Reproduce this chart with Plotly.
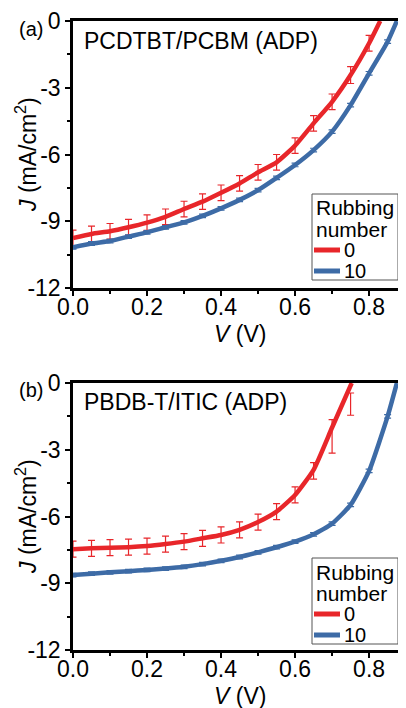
import plotly.graph_objects as go
from plotly.subplots import make_subplots

# ---- data ----
# (a) PCDTBT/PCBM : measured J-V curves
V_a_red = [0.0, 0.05, 0.10, 0.15, 0.20, 0.25, 0.30, 0.35, 0.40, 0.45, 0.50, 0.55, 0.60, 0.65, 0.70, 0.75, 0.80, 0.83]
J_a_red = [-9.75, -9.57, -9.45, -9.27, -9.06, -8.80, -8.45, -8.12, -7.72, -7.30, -6.80, -6.35, -5.60, -4.60, -3.63, -2.43, -1.00, 0.0]
V_a_blue = [0.0, 0.05, 0.10, 0.15, 0.20, 0.25, 0.30, 0.35, 0.40, 0.45, 0.50, 0.55, 0.60, 0.65, 0.70, 0.75, 0.80, 0.85, 0.875]
J_a_blue = [-10.17, -10.00, -9.89, -9.69, -9.50, -9.27, -9.05, -8.76, -8.42, -8.04, -7.60, -7.05, -6.47, -5.80, -4.97, -3.78, -2.35, -0.93, 0.0]
# (a) error bars (mean, half-width)
Vb_a_red = [0.0, 0.05, 0.10, 0.15, 0.20, 0.25, 0.30, 0.35, 0.40, 0.45, 0.50, 0.55, 0.60, 0.65, 0.70, 0.75, 0.80]
Jb_a_red = [-9.75, -9.57, -9.45, -9.27, -9.06, -8.80, -8.45, -8.12, -7.72, -7.30, -6.80, -6.35, -5.60, -4.60, -3.63, -2.43, -1.00]
Eb_a_red = [0.35, 0.35, 0.35, 0.35, 0.35, 0.35, 0.35, 0.35, 0.35, 0.35, 0.35, 0.35, 0.35, 0.35, 0.35, 0.38, 0.35]
Vb_a_blue = [0.0, 0.05, 0.10, 0.15, 0.20, 0.25, 0.30, 0.35, 0.40, 0.45, 0.50, 0.55, 0.60, 0.65, 0.70, 0.75, 0.80, 0.85]
Jb_a_blue = [-10.17, -10.00, -9.89, -9.69, -9.50, -9.27, -9.05, -8.76, -8.42, -8.04, -7.60, -7.05, -6.47, -5.80, -4.97, -3.78, -2.35, -0.93]
Eb_a_blue = [0.08] * 18

# (b) PBDB-T/ITIC : measured J-V curves
V_b_red = [0.0, 0.05, 0.10, 0.15, 0.20, 0.25, 0.30, 0.35, 0.40, 0.45, 0.50, 0.55, 0.60, 0.65, 0.70, 0.753]
J_b_red = [-7.47, -7.43, -7.40, -7.38, -7.33, -7.24, -7.13, -6.98, -6.83, -6.60, -6.25, -5.78, -5.03, -3.90, -2.00, 0.0]
V_b_blue = [0.0, 0.05, 0.10, 0.15, 0.20, 0.25, 0.30, 0.35, 0.40, 0.45, 0.50, 0.55, 0.60, 0.65, 0.70, 0.75, 0.80, 0.85, 0.875]
J_b_blue = [-8.63, -8.57, -8.51, -8.46, -8.40, -8.34, -8.26, -8.14, -7.99, -7.82, -7.61, -7.38, -7.13, -6.80, -6.32, -5.48, -3.95, -1.50, 0.0]
# (b) error bars (mean, half-width)
Vb_b_red = [0.0, 0.05, 0.10, 0.15, 0.20, 0.25, 0.30, 0.35, 0.40, 0.45, 0.50, 0.55, 0.60, 0.65, 0.70, 0.75]
Jb_b_red = [-7.47, -7.43, -7.40, -7.38, -7.33, -7.24, -7.13, -6.98, -6.83, -6.60, -6.25, -5.78, -5.03, -3.95, -2.40, -0.95]
Eb_b_red = [0.36, 0.36, 0.36, 0.36, 0.36, 0.36, 0.36, 0.36, 0.36, 0.36, 0.36, 0.36, 0.36, 0.37, 0.75, 0.50]
Vb_b_blue = [0.0, 0.05, 0.10, 0.15, 0.20, 0.25, 0.30, 0.35, 0.40, 0.45, 0.50, 0.55, 0.60, 0.65, 0.70, 0.75, 0.80, 0.85]
Jb_b_blue = [-8.63, -8.57, -8.51, -8.46, -8.40, -8.34, -8.26, -8.14, -7.99, -7.82, -7.61, -7.38, -7.13, -6.80, -6.32, -5.48, -3.95, -1.50]
Eb_b_blue = [0.08] * 18

legend_title = ["Rubbing", "number"]
legend_labels = ["0", "10"]
panel_titles = ["PCDTBT/PCBM (ADP)", "PBDB-T/ITIC (ADP)"]
panel_tags = ["(a)", "(b)"]
y_ticks = [0, -3, -6, -9, -12]
y_ticktext = ["0", "-3", "-6", "-9", "-12"]
x_ticks = [0.0, 0.2, 0.4, 0.6, 0.8]
x_ticktext = ["0.0", "0.2", "0.4", "0.6", "0.8"]

RED = "#E8262A"
BLUE = "#3D6BA6"
COLORS = [RED, BLUE]
FONT = "Liberation Sans, Arial, sans-serif"

fig = make_subplots(rows=2, cols=1, vertical_spacing=0.1)

panels = [
    (1, [(V_a_red, J_a_red, Vb_a_red, Jb_a_red, Eb_a_red), (V_a_blue, J_a_blue, Vb_a_blue, Jb_a_blue, Eb_a_blue)]),
    (2, [(V_b_red, J_b_red, Vb_b_red, Jb_b_red, Eb_b_red), (V_b_blue, J_b_blue, Vb_b_blue, Jb_b_blue, Eb_b_blue)]),
]
for row, series in panels:
    for (vx, jy, bx, by, be), col, name in zip(series, COLORS, legend_labels):
        fig.add_trace(go.Scatter(
            x=bx, y=by, mode="markers", name=name, showlegend=False, hoverinfo="skip",
            marker=dict(size=1, color="rgba(0,0,0,0)"),
            error_y=dict(type="data", array=be, visible=True, color=col, thickness=1.2, width=3.5),
        ), row=row, col=1)
        fig.add_trace(go.Scatter(
            x=vx, y=jy, mode="lines", name=name, showlegend=False,
            line=dict(color=col, width=4.5, shape="spline", smoothing=0.5),
        ), row=row, col=1)

# page body has an 8px margin: figure is placed at (8, 8) in the window
OFF = 8
W, H = 406 - OFF, 708 - OFF
PL, PT, PR, PB = 73, 21, 405, 650          # plot area in window pixels
L, T = PL - OFF, PT - OFF
R, B = W - (PR - OFF), H - (PB - OFF)
ph = PB - PT
pw = PR - PL
top_dom = [(PB - 288) / ph, 1.0]
bot_dom = [0.0, (PB - 383) / ph]

axis_common = dict(
    showline=True, linecolor="black", linewidth=2.5, ticks="outside", ticklen=5, tickwidth=2,
    tickcolor="black", showgrid=False, zeroline=False,
    tickfont=dict(family=FONT, size=23, color="black"),
)
for i, dom in [(1, top_dom), (2, bot_dom)]:
    xa = "xaxis" if i == 1 else "xaxis2"
    ya = "yaxis" if i == 1 else "yaxis2"
    fig.update_layout(**{
        xa: dict(axis_common, range=[0, 0.897], tickvals=x_ticks, ticktext=x_ticktext, mirror=True,
                 ticklabelstandoff=-8,
                 minor=dict(tickvals=[0.1, 0.3, 0.5, 0.7], ticklen=3, tickwidth=1.5, tickcolor="black", ticks="outside"),
                 anchor="y" if i == 1 else "y2"),
        ya: dict(axis_common, range=[-12, 0], tickvals=y_ticks, ticktext=y_ticktext, domain=dom,
                 minor=dict(tickvals=[-1.5, -4.5, -7.5, -10.5], ticklen=3, tickwidth=1.5, tickcolor="black", ticks="outside"),
                 anchor="x" if i == 1 else "x2"),
    })

px = lambda y: (PB - y) / ph
pxx = lambda x: (x - PL) / pw

fig.update_layout(
    width=W, height=H, margin=dict(l=L, r=R, t=T, b=B, autoexpand=False),
    paper_bgcolor="white", plot_bgcolor="white", showlegend=False,
)

ann = []
shapes = []
for tag, title, ytag, ylab, yx, leg_top in [(panel_tags[0], panel_titles[0], 29, 154, 334, 194),
                                            (panel_tags[1], panel_titles[1], 390, 516, 696, 558)]:
    ann.append(dict(text=tag, x=pxx(17), y=px(ytag), xref="paper", yref="paper",
                    xanchor="left", yanchor="middle", showarrow=False,
                    font=dict(family=FONT, size=20, color="black")))
    ann.append(dict(text=title, x=pxx(82), y=px(ytag + 12), xref="paper", yref="paper",
                    xanchor="left", yanchor="middle", showarrow=False,
                    font=dict(family=FONT, size=23, color="black")))
    ann.append(dict(text="<i>J</i> (mA/cm<sup>2</sup>)", x=pxx(26), y=px(ylab), xref="paper", yref="paper",
                    xanchor="center", yanchor="middle", textangle=-90, showarrow=False,
                    font=dict(family=FONT, size=23, color="black")))
    ann.append(dict(text="<i>V</i> (V)", x=pxx(240), y=px(yx), xref="paper", yref="paper",
                    xanchor="center", yanchor="middle", showarrow=False,
                    font=dict(family=FONT, size=23, color="black")))
    # legend box
    shapes.append(dict(type="rect", xref="paper", yref="paper", x0=pxx(312), x1=pxx(398),
                       y0=px(leg_top), y1=px(leg_top + 86), line=dict(color="#555555", width=1),
                       fillcolor="rgba(255,255,255,0)"))
    for k, t in enumerate(legend_title):
        ann.append(dict(text=t, x=pxx(314), y=px(leg_top + 14 + 21 * k), xref="paper", yref="paper",
                        xanchor="left", yanchor="middle", showarrow=False,
                        font=dict(family=FONT, size=21, color="black")))
    for k, (lab, col) in enumerate(zip(legend_labels, COLORS)):
        yy = px(leg_top + 56 + 21 * k)
        shapes.append(dict(type="line", xref="paper", yref="paper", x0=pxx(314), x1=pxx(340),
                           y0=yy, y1=yy, line=dict(color=col, width=5)))
        ann.append(dict(text=lab, x=pxx(342), y=yy, xref="paper", yref="paper",
                        xanchor="left", yanchor="middle", showarrow=False,
                        font=dict(family=FONT, size=20, color="black")))

for xr, yr in [("x domain", "y domain"), ("x2 domain", "y2 domain")]:
    shapes.append(dict(type="line", x0=1, x1=1, y0=0, y1=1, xref=xr, yref=yr,
                       line=dict(color="#777777", width=1)))
fig.update_layout(annotations=ann, shapes=shapes)

fig.write_html("out.html")
